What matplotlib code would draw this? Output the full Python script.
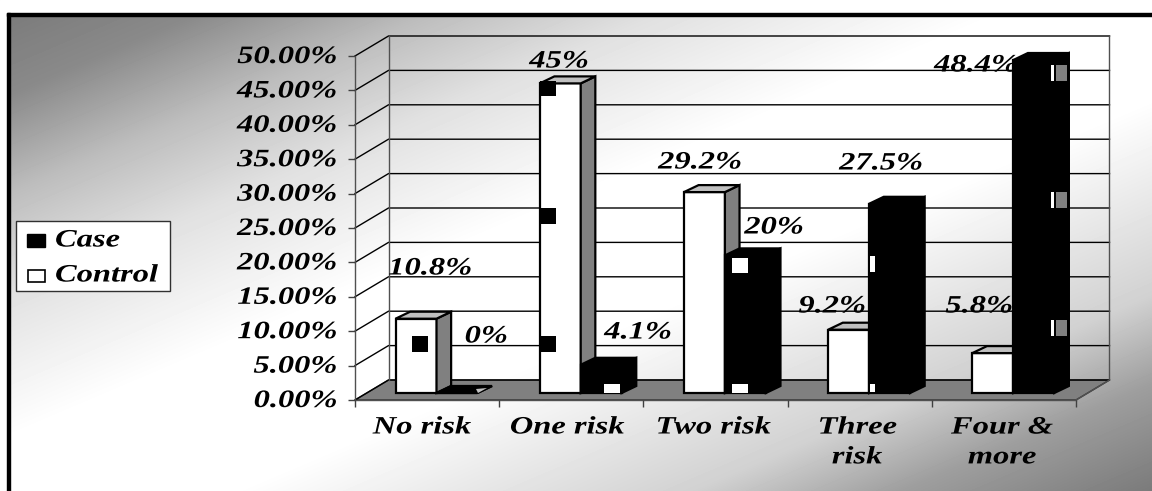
import numpy as np
import matplotlib
matplotlib.use("Agg")
import matplotlib.pyplot as plt
from matplotlib.patches import Polygon, Rectangle
from matplotlib.patheffects import AbstractPathEffect
from matplotlib.transforms import Affine2D

categories = ["No risk", "One risk", "Two risk", "Three\nrisk", "Four &\nmore"]
control = [10.8, 45, 29.2, 9.2, 5.8]
case = [0, 4.1, 20, 27.5, 48.4]
yticks = [0, 5, 10, 15, 20, 25, 30, 35, 40, 45, 50]

W, H = 1152, 491
# depth of the floor, in category units and percent
DX = 33.5 / 144.2
DY = 20 / 6.88
BAR_W = 0.284
BAR_X = 0.2
D0, D1 = 0.35, 0.7
BACK_SKEW = 0.02

plt.rcParams["font.family"] = "Liberation Serif"
plt.rcParams["font.weight"] = "bold"
plt.rcParams["font.style"] = "italic"


class Stretch(AbstractPathEffect):
    # widens glyphs about the text anchor (frac 0 left, 0.5 centre, 1 right)
    def __init__(self, sx, frac):
        super().__init__()
        self.sx = sx
        self.frac = frac

    def draw_path(self, renderer, gc, tpath, affine, rgbFace=None):
        w = tpath.get_extents().width * affine.get_matrix()[0, 0]
        shift = -(self.sx - 1) * w * self.frac
        new = Affine2D().scale(self.sx, 1) + affine + Affine2D().translate(shift, 0)
        renderer.draw_path(gc, tpath, new, rgbFace)


fig = plt.figure(figsize=(W / 100, H / 100), dpi=100, facecolor="white")

# page background with the diagonal grey ramp
bg = fig.add_axes([0, 0, 1, 1], zorder=0)
yy, xx = np.mgrid[0:H, 0:W]
t = (xx / W + yy / H) / 2
shade = np.interp(t, [0, 0.1, 0.2, 0.3, 0.45, 0.6, 0.8, 0.89, 1],
                  [0.47, 0.54, 0.74, 0.88, 1, 1, 0.82, 0.62, 0.48])
bg.imshow(shade, cmap="gray", vmin=0, vmax=1, extent=[0, W, H, 0], aspect="auto")
bg.set_xlim(0, W)
bg.set_ylim(H, 0)
bg.axis("off")
bg.add_patch(Rectangle((0, 0), W, 13, color="white", zorder=2))
bg.add_patch(Rectangle((0, 0), 7, H, color="white", zorder=2))
bg.add_patch(Rectangle((7, 13), 3, H, color="black", zorder=3))
bg.add_patch(Rectangle((7, 13), W, 3, color="black", zorder=3))

# plot area: front plane of the box, x in categories, y in percent
ax = fig.add_axes([355 / W, 1 - 400 / H, 721 / W, 344 / H], zorder=1)
ax.set_xlim(0, 5)
ax.set_ylim(0, 50)
ax.patch.set_alpha(0)
for s in ax.spines.values():
    s.set_visible(False)
ax.set_xticks(range(6))
ax.set_xticklabels([])
ax.set_yticks(yticks)
ax.set_yticklabels([])
ax.tick_params(axis="both", length=5, width=1, color="#404040")


def proj(x, v, d):
    return (x + d * DX, v + d * DY)


def face(pts, fc, z, ec="black", lw=1.6):
    ax.add_patch(Polygon(pts, closed=True, facecolor=fc, edgecolor=ec, linewidth=lw,
                         joinstyle="miter", zorder=z, clip_on=False))


# floor and walls
face([proj(0, 0, 0), proj(5, 0, 0), proj(5, 0, 1), proj(0, 0, 1)], "#808080", 1, ec="#303030", lw=1)
for v in yticks:
    ax.plot(*zip(proj(0, v, 0), proj(0, v, 1), proj(5, v, 1)), color="black", lw=1, zorder=1.5,
            clip_on=False, solid_joinstyle="miter")
ax.plot(*zip(proj(5, 0, 0), proj(5, 0, 1), proj(5, 50, 1)), color="#505050", lw=1, zorder=1.5, clip_on=False)
ax.plot(*zip(proj(0, 0, 1), proj(0, 50, 1)), color="#505050", lw=1, zorder=1.5, clip_on=False)
ax.plot(*zip(proj(0, 0, 0), proj(0, 50, 0)), color="#505050", lw=1, zorder=1.5, clip_on=False)
ax.plot(*zip(proj(0, 0, 0), proj(5, 0, 0)), color="#505050", lw=1, zorder=1.5, clip_on=False)


def bar(x, v, front, side, top, z):
    x0, x1 = x, x + BAR_W
    bx0, bx1 = x0 + BACK_SKEW, x1 + BACK_SKEW
    face([proj(x0, 0, D0), proj(x1, 0, D0), proj(x1, v, D0), proj(x0, v, D0)], front, z)
    face([proj(x1, 0, D0), proj(bx1, 0, D1), proj(bx1, v, D1), proj(x1, v, D0)], side, z)
    face([proj(x0, v, D0), proj(x1, v, D0), proj(bx1, v, D1), proj(bx0, v, D1)], top, z)


for i in range(len(categories)):
    bar(i + BAR_X, control[i], "white", "#808080", "#c0c0c0", 3 + i)
    bar(i + BAR_X + BAR_W, case[i], "black", "black", "black", 3.5 + i)

# overlay in pixels for text and the small square handles
ov = fig.add_axes([0, 0, 1, 1], zorder=2)
ov.set_xlim(0, W)
ov.set_ylim(H, 0)
ov.axis("off")


def label(x, y, s, size=18, sx=1.3, ha="center", z=5):
    frac = {"left": 0, "center": 0.5, "right": 1}[ha]
    tx = ov.text(x, y, s, fontsize=size, ha=ha, va="center", color="black", zorder=z,
                 linespacing=1.38)
    tx.set_path_effects([Stretch(sx, frac)])
    return tx


for v in yticks:
    label(337, 400.5 - v * 6.88, f"{v:.2f}%", ha="right")

cat_x = [422, 567, 713, 857, 1002]
cat_y = [427, 427, 427, 442, 442]
for x, y, s in zip(cat_x, cat_y, categories):
    label(x, y, s)

# value labels, control row then case row
control_pos = [(430, 268), (559, 61), (700, 162), (832, 306), (979, 306)]
case_pos = [(486, 336), (638, 332), (774, 227), (881, 163), (976, 65)]
for vals, pos in ((control, control_pos), (case, case_pos)):
    for v, (x, y) in zip(vals, pos):
        label(x, y, f"{v:g}%", z=1)

# little square handles left on the bars
black_sq = [(412, 336, 16, 16), (540, 81, 16, 15), (540, 208, 16, 16), (540, 336, 16, 16)]
white_sq = [(604, 384, 16, 9), (732, 258, 16, 15), (732, 384, 16, 9), (870, 256, 5, 16),
            (870, 384, 5, 8), (1051, 65, 3, 16), (1051, 192, 3, 16), (1051, 320, 3, 16)]
grey_sq = [(1056, 65, 11, 16), (1056, 192, 11, 16), (1056, 320, 11, 16)]
for squares, c in ((black_sq, "black"), (white_sq, "white"), (grey_sq, "#808080")):
    for x, y, w, h in squares:
        ov.add_patch(Rectangle((x, y), w, h, facecolor=c, edgecolor="none", zorder=6))
ov.add_patch(Polygon([(476, 389), (487, 388), (478, 393)], facecolor="#c0c0c0", edgecolor="none", zorder=6))

# legend box
ov.add_patch(Rectangle((15.5, 220.5), 154, 70, facecolor="white", edgecolor="#303030", lw=1, zorder=6))
ov.add_patch(Rectangle((27, 233.5), 18, 13, facecolor="black", edgecolor="black", lw=1, zorder=7))
ov.add_patch(Rectangle((27.5, 269.5), 17, 12, facecolor="white", edgecolor="black", lw=1.2, zorder=7))
label(55, 240, "Case", ha="left", z=7)
label(55, 275, "Control", ha="left", z=7)

fig.savefig("out.png", dpi=100)
